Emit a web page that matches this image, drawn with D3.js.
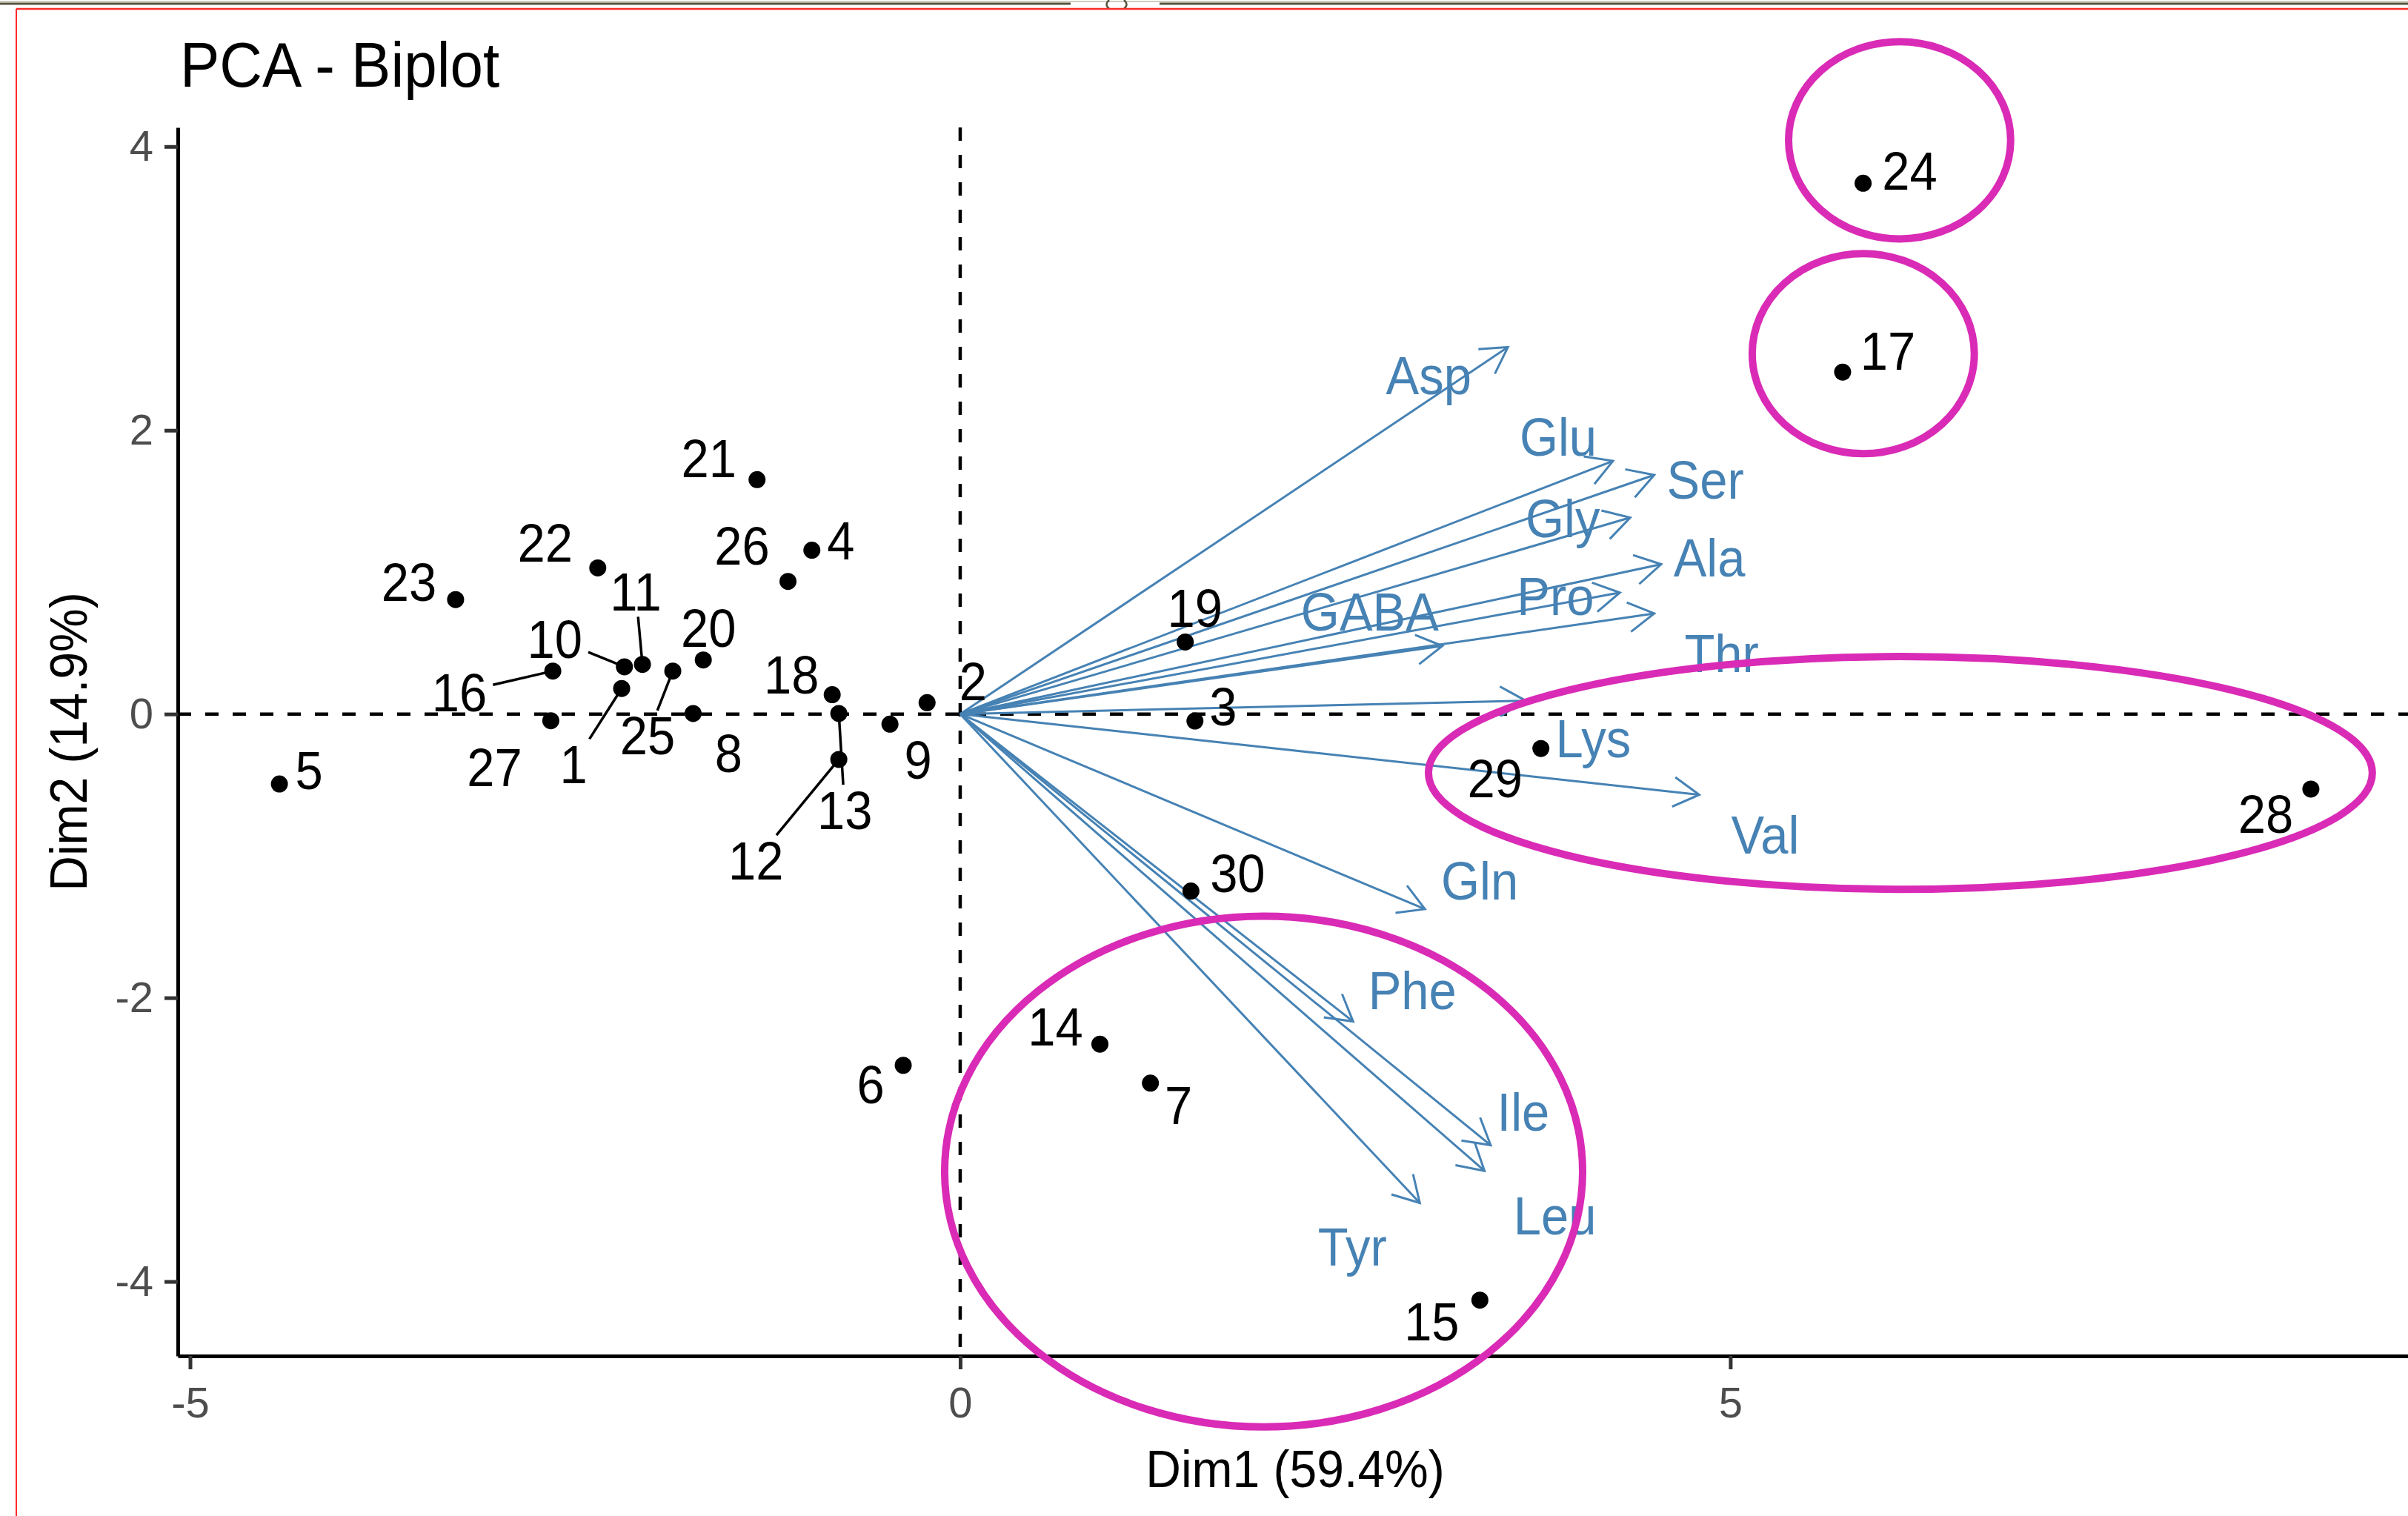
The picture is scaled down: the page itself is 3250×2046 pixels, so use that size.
<!DOCTYPE html>
<html>
<head>
<meta charset="utf-8">
<script src="https://cdn.jsdelivr.net/npm/d3@7"></script>
<style>
  body { margin: 0; background: #fff; }
  svg text { font-family: "Liberation Sans", Arial, sans-serif; }
</style>
</head>
<body>
<div class="biplot"></div>
<script>
const WIDTH = 3250;
const HEIGHT = 2046;
const PANEL_LEFT = 240;
const PANEL_RIGHT = 3256;
const PANEL_TOP = 172;
const PANEL_BOTTOM = 1830;
const SQUEEZE = 0.93;   // glyphs in the screenshot are a bit narrow
const LABEL_SIZE = 72;
const ARROW_COLOR = '#4682B4';
const RING_COLOR = '#D92BB6';

// individuals (coordinates on Dim1 / Dim2)
var individuals = ['1', '2', '3', '4', '5', '6', '7', '8', '9', '10',
    '11', '12', '13', '14', '15', '16', '17', '18', '19', '20',
    '21', '22', '23', '24', '25', '26', '27', '28', '29', '30'];
var indDim1 = [-2.198, -0.215, 1.524, -0.963, -4.420, -0.370, 1.235, -1.734, -0.456, -2.180,
    -2.063, -0.788, -0.788, 0.907, 3.374, -2.645, 5.729, -0.831, 1.461, -1.668,
    -1.319, -2.353, -3.276, 5.862, -1.866, -1.118, -2.658, 8.769, 3.770, 1.498];
var indDim2 = [0.180, 0.080, -0.049, 1.155, -0.493, -2.476, -2.602, 0.004, -0.071, 0.333,
    0.350, -0.320, 0.004, -2.327, -4.131, 0.303, 2.410, 0.136, 0.508, 0.381,
    1.652, 1.030, 0.807, 3.741, 0.303, 0.935, -0.047, -0.529, -0.243, -1.248];

// variables (arrow tips)
var variables = ['Asp', 'Glu', 'Ser', 'Gly', 'Ala', 'Pro', 'Thr', 'GABA',
    'Lys', 'Val', 'Gln', 'Phe', 'Ile', 'Leu', 'Tyr'];
var varDim1 = [3.556, 4.238, 4.506, 4.350, 4.551, 4.283, 4.506, 3.131,
    3.672, 4.798, 3.017, 2.551, 3.444, 3.404, 2.984];
var varDim2 = [2.586, 1.784, 1.685, 1.385, 1.056, 0.856, 0.709, 0.480,
    0.094, -0.569, -1.375, -2.167, -3.039, -3.220, -3.446];

var xTicks = [-5, 0, 5];
var yTicks = [-4, -2, 0, 2, 4];
var chartTitle = 'PCA - Biplot';
var xTitle = 'Dim1 (59.4%)';
var yTitle = 'Dim2 (14.9%)';

// label placement (pixel shift of the label centre from its mark, as repelled in the original)
var indLabelShift = {
    '1': [-65, 102], '2': [62, -29], '3': [38, -20], '4': [39, -13], '5': [40, -19],
    '6': [-44, 25], '7': [38, 29], '8': [48, 53], '9': [38, 48], '10': [-94, -38],
    '11': [-9, -98], '12': [-112, 136], '13': [8, 130], '14': [-60, -24], '15': [-65, 29],
    '16': [-126, 29], '17': [61, -29], '18': [-55, -27], '19': [13, -46], '20': [7, -43],
    '21': [-65, -29], '22': [-71, -34], '23': [-63, -24], '24': [63, -17], '25': [-34, 87],
    '26': [-62, -48], '27': [-76, 63], '28': [-61, 33], '29': [-62, 40], '30': [63, -24]
};
var withSegment = ['1', '10', '11', '12', '13', '16', '25'];
var varLabelShift = {
    Asp: [-107, 38], Glu: [-74, -33], Ser: [69, 6], Gly: [-91, 1], Ala: [65, -9],
    Pro: [-87, 4], Thr: [91, 53], GABA: [-98, -47], Lys: [91, 51], Val: [89, 54],
    Gln: [74, -39], Phe: [80, -42], Ile: [44, -45], Leu: [95, 60], Tyr: [-91, 59]
};

// hand drawn rings (data units)
var rings = [
    {cx: 6.099, cy: 4.044, rx: 0.721, ry: 0.695},
    {cx: 5.863, cy: 2.540, rx: 0.721, ry: 0.705},
    {cx: 6.104, cy: -0.415, rx: 3.064, ry: 0.820},
    {cx: 1.970, cy: -3.225, rx: 2.071, ry: 1.800}
];

// ggplot style 5% expansion
function expand(ext) {
    var pad = (ext[1] - ext[0]) * 0.05;
    return [ext[0] - pad, ext[1] + pad];
}
var xScale = d3.scaleLinear().domain(expand(d3.extent(indDim1))).range([PANEL_LEFT, PANEL_RIGHT]);
var yScale = d3.scaleLinear().domain(expand(d3.extent(indDim2))).range([PANEL_BOTTOM, PANEL_TOP]);

function setupSvg() {
    var svg = d3.select('.biplot').append('svg')
        .attr('width', WIDTH)
        .attr('height', HEIGHT)
        .style('display', 'block');
    svg.append('rect').attr('width', WIDTH).attr('height', HEIGHT).attr('fill', '#fff');
    var defs = svg.append('defs');
    defs.append('marker')
        .attr('id', 'head')
        .attr('viewBox', '-38 -24 42 48')
        .attr('markerUnits', 'userSpaceOnUse')
        .attr('markerWidth', 42).attr('markerHeight', 48)
        .attr('refX', 0).attr('refY', 0)
        .attr('orient', 'auto')
        .append('path')
        .attr('d', 'M-34.6,-20L0,0L-34.6,20')
        .attr('fill', 'none')
        .attr('stroke', ARROW_COLOR)
        .attr('stroke-width', 3);
    return svg;
}

function addText(g, str, x, y, size, color, anchor) {
    return g.append('text')
        .attr('transform', 'translate(' + x + ',' + y + ') scale(' + SQUEEZE + ',1)')
        .attr('text-anchor', anchor || 'middle')
        .attr('font-size', size)
        .attr('fill', color)
        .text(str);
}

function drawFrame(svg) {
    // bits of the window around the screenshot
    var g = svg.append('g');
    g.append('line').attr('x1', 0).attr('x2', WIDTH).attr('y1', 2).attr('y2', 2)
        .attr('stroke', '#cfccbd').attr('stroke-width', 2);
    [[0, 1445], [1565, WIDTH]].forEach(function (seg) {
        g.append('line').attr('x1', seg[0]).attr('x2', seg[1]).attr('y1', 5).attr('y2', 5)
            .attr('stroke', '#56543e').attr('stroke-width', 3);
    });
    g.append('path').attr('d', 'M1497,0 Q1490,6 1497,12 M1517,0 Q1524,6 1517,12')
        .attr('fill', 'none').attr('stroke', '#56543e').attr('stroke-width', 2.5);
    g.append('line').attr('x1', 22).attr('x2', WIDTH).attr('y1', 12).attr('y2', 12)
        .attr('stroke', '#ff2a2a').attr('stroke-width', 2.5);
    g.append('line').attr('x1', 22).attr('x2', 22).attr('y1', 12).attr('y2', HEIGHT)
        .attr('stroke', '#ff2a2a').attr('stroke-width', 2);
}

function plainNumber(d) {
    return String(d);   // R prints a plain hyphen minus
}

function drawAxis(svg) {
    var xAxis = d3.axisBottom(xScale).tickValues(xTicks).tickFormat(plainNumber)
        .tickSize(18).tickSizeOuter(0).tickPadding(24);
    var yAxis = d3.axisLeft(yScale).tickValues(yTicks).tickFormat(plainNumber)
        .tickSize(18).tickSizeOuter(0).tickPadding(15);
    var xg = svg.append('g').attr('transform', 'translate(0,' + PANEL_BOTTOM + ')').call(xAxis);
    var yg = svg.append('g').attr('transform', 'translate(' + PANEL_LEFT + ',0)').call(yAxis);
    [xg, yg].forEach(function (g) {
        g.select('.domain').attr('stroke', '#000').attr('stroke-width', 5);
        g.selectAll('.tick line').attr('stroke', '#333').attr('stroke-width', 5);
        g.selectAll('.tick text')
            .attr('font-size', 58)
            .attr('font-family', '"Liberation Sans", Arial, sans-serif')
            .attr('fill', '#4D4D4D');
    });
    addText(svg, xTitle, (PANEL_LEFT + PANEL_RIGHT) / 2, 2007, 71, '#000');
    svg.append('text')
        .attr('transform', 'translate(117,' + ((PANEL_TOP + PANEL_BOTTOM) / 2) + ') rotate(-90) scale(' + SQUEEZE + ',1)')
        .attr('text-anchor', 'middle')
        .attr('font-size', 71)
        .attr('fill', '#000')
        .text(yTitle);
    addText(svg, chartTitle, 243, 117, 86, '#000', 'start');
}

function drawReferenceLines(svg) {
    var g = svg.append('g').attr('stroke', '#000').attr('stroke-width', 4.5).attr('stroke-dasharray', '18,19');
    g.append('line')
        .attr('x1', PANEL_LEFT).attr('x2', PANEL_RIGHT)
        .attr('y1', yScale(0)).attr('y2', yScale(0));
    g.append('line')
        .attr('x1', xScale(0)).attr('x2', xScale(0))
        .attr('y1', PANEL_TOP).attr('y2', PANEL_BOTTOM);
}

function drawVariables(svg) {
    var g = svg.append('g');
    g.selectAll('line').data(variables).enter().append('line')
        .attr('x1', xScale(0))
        .attr('y1', yScale(0))
        .attr('x2', function (d, i) { return xScale(varDim1[i]); })
        .attr('y2', function (d, i) { return yScale(varDim2[i]); })
        .attr('stroke', ARROW_COLOR)
        .attr('stroke-width', 3)
        .attr('marker-end', 'url(#head)');
    variables.forEach(function (v, i) {
        var s = varLabelShift[v];
        addText(g, v, xScale(varDim1[i]) + s[0], yScale(varDim2[i]) + s[1] + LABEL_SIZE * 0.358,
            LABEL_SIZE, ARROW_COLOR);
    });
}

function drawIndividuals(svg) {
    var segG = svg.append('g');
    var g = svg.append('g');
    g.selectAll('circle').data(individuals).enter().append('circle')
        .attr('cx', function (d, i) { return xScale(indDim1[i]); })
        .attr('cy', function (d, i) { return yScale(indDim2[i]); })
        .attr('r', 11.5)
        .attr('fill', '#000');
    individuals.forEach(function (name, i) {
        var px = xScale(indDim1[i]);
        var py = yScale(indDim2[i]);
        var s = indLabelShift[name];
        var lx = px + s[0];
        var ly = py + s[1];
        var t = addText(g, name, lx, ly + LABEL_SIZE * 0.358, LABEL_SIZE, '#000');
        if (withSegment.indexOf(name) >= 0) {
            var hw = t.node().getComputedTextLength() * SQUEEZE / 2 + 8;
            var hh = LABEL_SIZE * 0.358 + 8;
            var dx = lx - px, dy = ly - py;
            var k = Math.min(dx === 0 ? Infinity : hw / Math.abs(dx), dy === 0 ? Infinity : hh / Math.abs(dy));
            segG.append('line')
                .attr('x1', px).attr('y1', py)
                .attr('x2', px + dx * (1 - k)).attr('y2', py + dy * (1 - k))
                .attr('stroke', '#000').attr('stroke-width', 3.5);
        }
    });
}

function drawRings(svg) {
    var g = svg.append('g');
    g.selectAll('ellipse').data(rings).enter().append('ellipse')
        .attr('cx', function (d) { return xScale(d.cx); })
        .attr('cy', function (d) { return yScale(d.cy); })
        .attr('rx', function (d) { return xScale(d.rx) - xScale(0); })
        .attr('ry', function (d) { return yScale(0) - yScale(d.ry); })
        .attr('fill', 'none')
        .attr('stroke', RING_COLOR)
        .attr('stroke-width', 10);
}

var svg = setupSvg();
drawFrame(svg);
drawReferenceLines(svg);
drawAxis(svg);
drawVariables(svg);
drawIndividuals(svg);
drawRings(svg);
</script>
</body>
</html>
